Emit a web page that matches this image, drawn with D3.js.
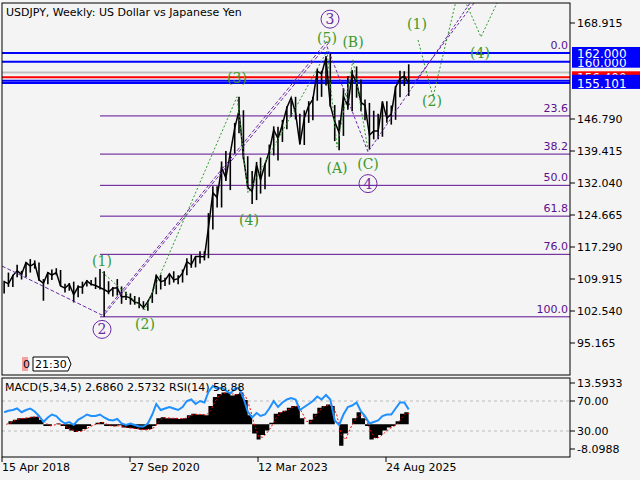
<!DOCTYPE html>
<html><head><meta charset="utf-8">
<script src="https://cdn.jsdelivr.net/npm/d3@7"></script>
<style>body{margin:0;background:#f4f4f4}svg{display:block;font-family:"DejaVu Sans",sans-serif}</style>
</head><body><svg id="c" width="640" height="480"></svg>
<script>
// monthly bars, Apr 2018 .. Jan 2026
const highs = [109.5,111.4,110.9,113.2,111.8,113.7,114.5,114.2,113.7,
109.9,111.5,112.1,112.4,112.0,108.8,109.0,109.3,108.5,109.3,109.7,109.7,
110.3,112.2,111.7,109.4,108.1,109.9,108.2,107.0,106.6,106.0,105.7,104.8,
104.9,106.7,110.9,110.9,110.2,111.1,111.7,110.8,112.1,114.7,115.5,115.1,
116.3,116.3,125.1,131.3,131.3,137.0,139.4,139.1,145.9,151.9,148.8,138.2,
134.8,136.9,137.9,136.6,140.9,145.1,145.0,146.6,149.7,151.0,151.9,148.0,
148.8,150.9,151.9,158.4,157.9,161.3,161.9,150.0,146.5,153.9,156.7,158.1,
158.9,155.9,151.3,150.5,148.7,148.0,150.9,150.9,149.9,154.4,157.9,157.8,
159.4];
const lows = [106.6,108.1,108.1,110.3,109.8,110.4,111.4,112.3,109.5,
104.9,108.7,109.7,110.8,108.3,106.8,107.2,104.5,105.7,106.5,108.2,108.4,
107.6,107.5,101.2,106.4,105.9,106.1,104.2,105.1,104.0,104.0,103.2,102.9,
102.6,104.4,106.4,107.5,108.3,108.6,109.1,108.7,109.1,110.8,112.5,112.6,
113.5,114.2,114.7,121.3,126.4,126.4,132.5,130.4,138.8,143.5,137.5,130.6,
127.2,128.1,129.6,130.6,133.5,138.4,137.2,141.5,144.4,147.3,146.7,140.9,
140.8,145.9,146.5,151.0,151.9,154.5,149.6,141.7,139.6,142.9,148.9,148.6,
151.7,148.6,146.5,139.9,142.1,142.1,142.7,145.9,145.5,146.6,151.8,154.4,
152.1];
const closes = [109.3,108.8,110.7,111.8,111.0,113.7,112.9,113.5,109.7,
108.9,111.4,110.8,111.4,108.3,107.8,108.7,106.3,108.1,108.0,109.5,108.7,
108.4,107.9,107.5,106.9,107.8,107.9,105.8,105.9,105.5,104.6,104.3,103.3,
104.7,106.6,110.7,109.3,109.6,111.1,109.7,110.0,111.3,113.9,113.2,115.1,
115.1,115.0,121.7,129.8,128.7,135.7,133.2,138.9,144.7,148.7,138.1,131.1,
130.1,136.2,132.8,136.3,139.3,144.3,142.3,145.5,149.4,151.7,148.2,141.0,
147.0,149.9,151.3,157.8,157.2,160.9,150.0,146.2,143.6,152.0,149.8,157.2,
155.2,150.6,149.9,143.1,144.0,144.0,150.7,147.0,147.9,154.1,156.1,156.7,
155.1];
const rsi = [55,57,58,60,55,58,60,56,50,
42,48,52,50,44,40,42,38,45,48,52,50,
50,52,48,45,44,46,40,38,40,38,36,36,
40,52,66,58,60,62,60,58,62,70,72,66,
70,68,82,90,86,88,84,80,86,88,74,56,
48,54,50,52,60,70,62,68,72,74,72,58,
62,66,70,76,72,78,72,44,38,52,62,64,
68,56,50,40,42,44,50,52,52,60,68,68,
58.88];
const macd = [0,1,1.5,2,2,2.2,2.5,2.5,1.5,
-0.5,-0.5,0,0.3,-0.5,-1.5,-2,-2.5,-2.2,-1.5,-0.5,0,
0.5,0.8,-0.5,-0.5,-0.6,-0.3,-1,-1.2,-1.3,-1.5,-1.8,-1.8,
-1.5,-0.5,2,2.3,2,2,2,1.8,2,3,3.5,3.2,
3.2,3.0,6,9,10,10.5,10.5,9.5,10,10.5,8,3,
-3,-5,-3.5,-2,0.5,3.5,4,4.5,5.5,6,6,2,
0,1.5,3.5,5.5,6,6.5,6,0,-7,-3,0,2,
4,2,-0.5,-5,-4.5,-3.5,-2,-1,-0.5,1,3.5,4,
2.686];
const priceTicks = [168.915,146.790,139.415,132.040,124.665,117.290,109.915,102.540,95.165];
const fibLevels = [["0.0",162.0],["23.6",147.5],["38.2",138.7],["50.0",131.5],["61.8",124.4],["76.0",115.6],["100.0",101.2]];
const hLines = [[162.0,"#0000ff","162.000"],[160.0,"#0000ff","160.000"],[157.5,"#c0c0c0",null],[156.4,"#ff0000","156.400"],[155.6,"#0000ff","155.600"],[155.101,"#0000ff","155.101"]];
const dateTicks = [["2018-04-15","15 Apr 2018"],["2020-09-27","27 Sep 2020"],["2023-03-12","12 Mar 2023"],["2025-08-24","24 Aug 2025"]];
// wave annotations: [weeks since 15 Apr 2018, price]
const purpleWave = [[0,112.9],[100,101.6],[325,164.7]];
const purpleWave2 = [[103,101.9],[328,164.7]];
const purpleCorr = [[325,163.5],[366,139.2],[468,173.5]];
const purpleChan = [[413,155.5],[472,173.5]];
const greenWave = [[100,111.5],[143,102.8],[235,151.9],[246,129.7],[325,162.4],[335,140.3],[351,160.4],[366,139.6]];
const greenFut1 = [[416,165.0],[431,151.9],[454,174]];
const greenFut2 = [[463,174],[479,165.7],[496,174]];
const greenLabels = [["(1)",100,113.0],["(2)",143,98.3],["(3)",235,155.2],["(4)",247,122.4],["(5)",325,164.2],["(A)",335,134.4],["(B)",351,163.4],["(C)",366,135.3],["(1)",415,167.6],["(2)",430,149.8],["(4)",478,160.8]];
const purpleLabels = [["2",100,98.3],["3",328,169.8],["4",366,131.9]];

const svg = d3.select("#c");
const L=2,R=570,T=3,B=375, ST=378, SB=457;
const t0 = new Date(2018,3,15);
const x = d3.scaleTime().domain([t0,new Date(2025,7,24)]).range([2,386]);
const wk = w => x(d3.timeWeek.offset(t0,w));
const y = d3.scaleLinear().domain([95.165,168.915]).range([343,23]);
const months = highs.map((_,i)=>d3.timeMonth.offset(new Date(2018,3,15),i));
const yr = d3.scaleLinear().domain([0,100]).range([453.5,378.5]);
const ym = d3.scaleLinear().domain([-8.0988,13.5933]).range([449,383]);

svg.append("rect").attr("width",640).attr("height",480).attr("fill","#f4f4f4");
const main = svg.append("g");
main.append("defs").append("clipPath").attr("id","cp").append("rect").attr("x",L).attr("y",T).attr("width",R-L).attr("height",B-T);
const g = main.append("g").attr("clip-path","url(#cp)");

fibLevels.forEach(([lab,p],i)=>{
  if(i>0) g.append("line").attr("x1",100).attr("x2",R).attr("y1",y(p)).attr("y2",y(p)).attr("stroke","#5b0f91").attr("stroke-width",1);
  g.append("text").attr("x",R-2).attr("y",y(p)-4).attr("text-anchor","end").attr("font-size",11).attr("fill","#5b0f91").text(lab);
});
hLines.forEach(([p,c])=>g.append("line").attr("x1",L).attr("x2",R).attr("y1",y(p)).attr("y2",y(p)).attr("stroke",c).attr("stroke-width",2));

// price bars
const mw = (x(months[1])-x(months[0]));
const xc = i => x(months[i])+mw/2;
g.append("path").attr("d",d3.line().x((d,i)=>xc(i)).y(d=>y(d))(closes)).attr("fill","none").attr("stroke","#000").attr("stroke-width",1.5);
months.forEach((m,i)=>{
  g.append("line").attr("x1",xc(i)).attr("x2",xc(i)).attr("y1",y(highs[i])).attr("y2",y(lows[i])).attr("stroke","#000").attr("stroke-width",1.6);
});
const line = d3.line().x(d=>wk(d[0])).y(d=>y(d[1]));
const dashed=(pts,c,da,w)=>g.append("path").attr("d",line(pts)).attr("fill","none").attr("stroke",c).attr("stroke-width",w||1).attr("stroke-dasharray",da);
dashed(purpleWave,"#6a2aa8","4,2");dashed(purpleWave2,"#6a2aa8","4,2");dashed(purpleCorr,"#6a2aa8","3,2");dashed(purpleChan,"#6a2aa8","3,2");
dashed(greenWave,"#2e9a2e","2,2");dashed(greenFut1,"#2e9a2e","2,2");dashed(greenFut2,"#2e9a2e","2,2");
greenLabels.forEach(([t,w,p])=>g.append("text").attr("x",wk(w)).attr("y",y(p)).attr("text-anchor","middle").attr("font-size",14).attr("fill","#3a9a2a").attr("font-family","DejaVu Serif,serif").text(t));
purpleLabels.forEach(([t,w,p])=>{
  g.append("circle").attr("cx",wk(w)).attr("cy",y(p)).attr("r",9).attr("fill","none").attr("stroke","#6a2aa8");
  g.append("text").attr("x",wk(w)).attr("y",y(p)+5).attr("text-anchor","middle").attr("font-size",14).attr("fill","#6a2aa8").attr("font-family","DejaVu Serif,serif").text(t);
});
main.append("text").attr("x",6).attr("y",16).attr("font-size",11).text("USDJPY, Weekly:  US Dollar vs Japanese Yen");
main.append("rect").attr("x",22).attr("y",357).attr("width",6).attr("height",14).attr("fill","#f4a0a0");
main.append("text").attr("x",23).attr("y",368).attr("font-size",11).text("0");
main.append("path").attr("d","M33,357H68L71,364L68,371H33Z").attr("fill","#fff").attr("stroke","#000");
main.append("text").attr("x",35).attr("y",368).attr("font-size",11).text("21:30");

// right axis
priceTicks.forEach(p=>{
  main.append("line").attr("x1",R).attr("x2",R+5).attr("y1",y(p)).attr("y2",y(p)).attr("stroke","#000");
  main.append("text").attr("x",R+7).attr("y",y(p)+4).attr("font-size",11).text(p.toFixed(3));
});
[1,0,3,4,5].forEach(i=>{
  const [p,c,lab]=hLines[i];
  main.append("rect").attr("x",R+2).attr("y",y(p)-6).attr("width",68).attr("height",12).attr("fill",c==="#ff0000"?"#ff0000":"#0000ff");
  main.append("text").attr("x",R+7).attr("y",y(p)+5).attr("font-size",12).attr("fill","#fff").text(lab);
});
main.append("rect").attr("x",L).attr("y",T).attr("width",R-L).attr("height",B-T).attr("fill","none").attr("stroke","#000");

// sub panel
const s = svg.append("g");
[70,30].forEach(v=>s.append("line").attr("x1",L).attr("x2",R).attr("y1",yr(v)).attr("y2",yr(v)).attr("stroke","#bbb").attr("stroke-dasharray","3,3"));
const area = d3.area().x((d,i)=>x(months[i])+mw/2).y0(ym(0)).y1(d=>ym(d)).curve(d3.curveStepAfter);
s.append("path").attr("d",area(macd)).attr("fill","#000");
const sig = macd.map((v,i)=>d3.mean(macd.slice(Math.max(0,i-1),i+1)));
s.append("path").attr("d",d3.line().x((d,i)=>x(months[i])+mw).y(d=>ym(d))(sig)).attr("fill","none").attr("stroke","#f00").attr("stroke-dasharray","2,2");
s.append("path").attr("d",d3.line().x((d,i)=>x(months[i])+mw/2).y(d=>yr(d))(rsi)).attr("fill","none").attr("stroke","#1e90ff").attr("stroke-width",2);
s.append("text").attr("x",5).attr("y",391).attr("font-size",11).text("MACD(5,34,5) 2.6860 2.5732 RSI(14) 58.88");
s.append("rect").attr("x",L).attr("y",ST).attr("width",R-L).attr("height",SB-ST).attr("fill","none").attr("stroke","#000");
[[13.5933,"13.5933",ym],[70,"70.00",yr],[30,"30.00",yr],[-8.0988,"-8.0988",ym]].forEach(([v,t,sc])=>{
  s.append("line").attr("x1",R).attr("x2",R+5).attr("y1",sc(v)).attr("y2",sc(v)).attr("stroke","#000");
  s.append("text").attr("x",R+7).attr("y",sc(v)+4).attr("font-size",11).text(t);
});
dateTicks.forEach(([d,t])=>{
  const xx = x(new Date(d+"T00:00"));
  s.append("line").attr("x1",xx).attr("x2",xx).attr("y1",SB).attr("y2",SB+5).attr("stroke","#000");
  s.append("text").attr("x",xx).attr("y",471).attr("font-size",11).text(t);
});
</script></body></html>
